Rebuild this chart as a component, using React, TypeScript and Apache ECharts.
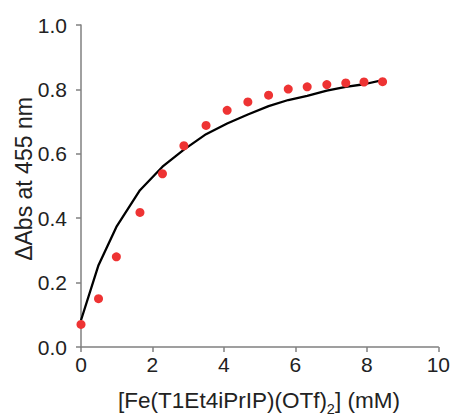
import React, { useEffect, useRef } from "react";
import * as echarts from "echarts";

const concentrations = [0, 0.49, 0.99, 1.65, 2.28, 2.88, 3.5, 4.09, 4.67, 5.25, 5.8, 6.33, 6.88, 7.41, 7.92, 8.44];
const measured = [0.07, 0.15, 0.28, 0.418, 0.538, 0.625, 0.688, 0.735, 0.761, 0.782, 0.801, 0.808, 0.815, 0.82, 0.823, 0.824];
const fitted = [0.083, 0.254, 0.373, 0.487, 0.56, 0.613, 0.661, 0.694, 0.722, 0.748, 0.767, 0.78, 0.796, 0.808, 0.816, 0.829];

const xTitle = "{a|[Fe(T1Et4iPrIP)(OTf)}{s|2}{a|] (mM)}";
const yTitle = "ΔAbs at 455 nm";

export default function App() {
  const ref = useRef<HTMLDivElement>(null);
  useEffect(() => {
    if (!ref.current) return;
    const chart = echarts.init(ref.current, null, { renderer: "svg" });
    const font = "Liberation Sans, Arial, sans-serif";
    const axisColor = "#808080";
    const textColor = "#222222";
    chart.setOption({
      animation: false,
      backgroundColor: "#ffffff",
      grid: { left: 81, right: 14, top: 25, bottom: 68, containLabel: false },
      xAxis: {
        type: "value",
        min: 0,
        max: 10,
        interval: 2,
        axisLine: { show: true, onZero: false, lineStyle: { color: axisColor, width: 1.5 } },
        axisTick: { show: true, inside: false, length: 5, lineStyle: { color: axisColor, width: 1.5 } },
        axisLabel: { margin: 7, fontSize: 21, fontFamily: font, color: textColor },
        splitLine: { show: false },
      },
      yAxis: {
        type: "value",
        min: 0,
        max: 1,
        interval: 0.2,
        axisLine: { show: true, onZero: false, lineStyle: { color: axisColor, width: 1.5 } },
        axisTick: { show: true, inside: false, length: 5, lineStyle: { color: axisColor, width: 1.5 } },
        axisLabel: {
          margin: 14,
          fontSize: 21,
          fontFamily: font,
          color: textColor,
          formatter: (v: number) => v.toFixed(1),
        },
        splitLine: { show: false },
      },
      graphic: [
        {
          type: "text",
          x: 259,
          y: 400,
          style: {
            text: xTitle,
            align: "center",
            verticalAlign: "middle",
            rich: {
              a: { fontSize: 22.5, fontFamily: font, fill: textColor, color: textColor, lineHeight: 24, verticalAlign: "bottom" },
              s: { fontSize: 14.5, fontFamily: font, fill: textColor, color: textColor, lineHeight: 24, verticalAlign: "bottom", padding: [0, 0, -4, 0] },
            },
          },
        },
        {
          type: "text",
          x: 24,
          y: 179,
          rotation: Math.PI / 2,
          style: {
            text: yTitle,
            align: "center",
            verticalAlign: "middle",
            fontSize: 23,
            fontFamily: font,
            fill: textColor,
          },
        },
      ],
      series: [
        {
          type: "line",
          data: concentrations.map((x, i) => [x, fitted[i]]),
          showSymbol: false,
          symbol: "none",
          smooth: false,
          lineStyle: { color: "#000000", width: 2.3 },
          z: 2,
        },
        {
          type: "scatter",
          data: concentrations.map((x, i) => [x, measured[i]]),
          symbol: "circle",
          symbolSize: 9,
          itemStyle: { color: "#ee3333", opacity: 1 },
          z: 3,
        },
      ],
    });
    return () => chart.dispose();
  }, []);
  return <div ref={ref} style={{ width: 453, height: 415, position: "fixed", left: 0, top: 0 }} />;
}
